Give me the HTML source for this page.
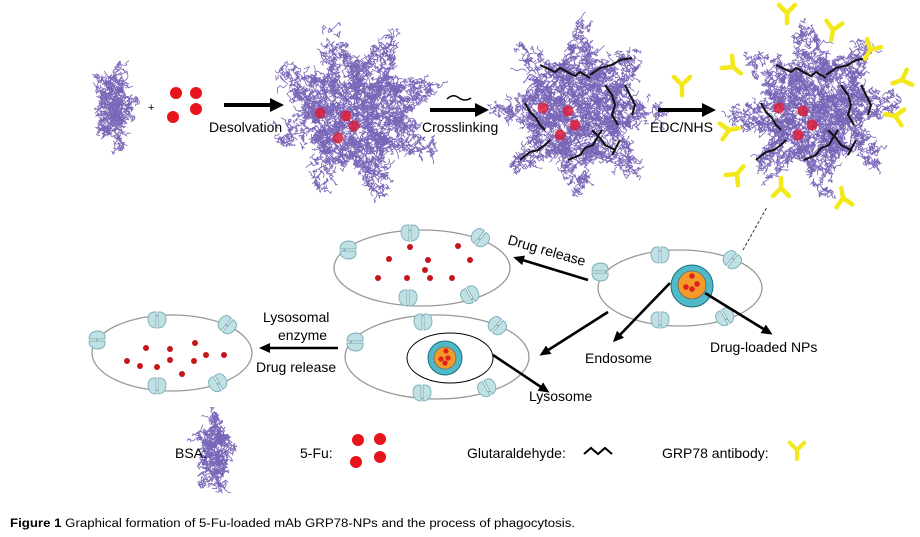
<!DOCTYPE html>
<html><head><meta charset="utf-8"><style>
body{margin:0;background:#fff;}
svg{display:block;font-family:"Liberation Sans",Arial,sans-serif;}
</style></head><body>
<svg id="s" width="920" height="537" viewBox="0 0 920 537" xmlns="http://www.w3.org/2000/svg">
<defs>
<marker id="ah" markerWidth="11" markerHeight="10" refX="8" refY="5" orient="auto" markerUnits="userSpaceOnUse"><path d="M0,0 L11,5 L0,10 z" fill="#000"/></marker>
<marker id="ah2" markerWidth="14" markerHeight="14" refX="10" refY="7" orient="auto" markerUnits="userSpaceOnUse"><path d="M0,0 L14,7 L0,14 z" fill="#000"/></marker>
</defs>
<g id="blobs"></g>
<g id="top">
<text x="148" y="111" font-size="11">+</text>
<circle cx="176" cy="93" r="6" fill="#e8141c"/><circle cx="196" cy="93" r="6" fill="#e8141c"/>
<circle cx="173" cy="117" r="6" fill="#e8141c"/><circle cx="196" cy="109" r="6" fill="#e8141c"/>
<line x1="224" y1="105" x2="280" y2="105" stroke="#000" stroke-width="4" marker-end="url(#ah2)"/>
<text x="209" y="132" font-size="14">Desolvation</text>
<line x1="430" y1="110" x2="485" y2="110" stroke="#000" stroke-width="4" marker-end="url(#ah2)"/>
<path d="M447,99 q6,-6 12,-1 q6,4 12,0" fill="none" stroke="#000" stroke-width="1.5"/>
<text x="422" y="132" font-size="14">Crosslinking</text>
<line x1="658" y1="110" x2="712" y2="110" stroke="#000" stroke-width="4" marker-end="url(#ah2)"/>
<text x="650" y="132" font-size="14">EDC/NHS</text>
</g>
<g id="cells" stroke="#999" fill="none" stroke-width="1.3">
<ellipse cx="422" cy="268" rx="88" ry="38"/>
<ellipse cx="172" cy="353" rx="80" ry="38"/>
<ellipse cx="437" cy="357" rx="92" ry="42"/>
<ellipse cx="680" cy="288" rx="82" ry="38"/>
</g>
<g id="rec"></g>
<g id="drugs" fill="#c4161c"></g>
<ellipse cx="450" cy="358" rx="43" ry="25" fill="#fff" stroke="#000" stroke-width="1"/>
<circle cx="445" cy="358" r="17" fill="#4fb9c8" stroke="#1c6c78"/>
<circle cx="445" cy="358" r="11" fill="#f39a2a" stroke="#555" stroke-width=".6"/>
<circle cx="446" cy="351" r="2.6" fill="#e0201e"/><circle cx="441" cy="359" r="2.6" fill="#e0201e"/><circle cx="448" cy="358" r="2.6" fill="#e0201e"/><circle cx="445" cy="363" r="2.6" fill="#e0201e"/>
<circle cx="692" cy="286" r="21" fill="#4fb9c8" stroke="#1c6c78"/>
<circle cx="692" cy="285" r="14" fill="#f39a2a" stroke="#555" stroke-width=".6"/>
<circle cx="692" cy="276" r="2.8" fill="#e0201e"/><circle cx="686" cy="287" r="2.8" fill="#e0201e"/><circle cx="692" cy="289" r="2.8" fill="#e0201e"/><circle cx="697" cy="284" r="2.8" fill="#e0201e"/>
<g stroke="#000" stroke-width="2.6" fill="none">
<line x1="588" y1="280" x2="516" y2="258" marker-end="url(#ah)"/>
<line x1="670" y1="283" x2="615" y2="340" marker-end="url(#ah)"/>
<line x1="705" y1="293" x2="770" y2="333" marker-end="url(#ah)"/>
<line x1="608" y1="312" x2="542" y2="354" marker-end="url(#ah)"/>
<line x1="493" y1="355" x2="547" y2="391" marker-end="url(#ah)"/>
<line x1="338" y1="348" x2="262" y2="348" marker-end="url(#ah)"/>
</g>
<line x1="743" y1="250" x2="767" y2="207" stroke="#333" stroke-dasharray="3,2" stroke-width="1"/>
<g font-size="14">
<text x="507" y="244" transform="rotate(16 507 244)">Drug release</text>
<text x="585" y="363">Endosome</text>
<text x="710" y="352">Drug-loaded NPs</text>
<text x="529" y="401">Lysosome</text>
<text x="263" y="322">Lysosomal</text>
<text x="278" y="340">enzyme</text>
<text x="256" y="372">Drug release</text>
<text x="175" y="458">BSA:</text>
<text x="300" y="458">5-Fu:</text>
<text x="467" y="458">Glutaraldehyde:</text>
<text x="662" y="458">GRP78 antibody:</text>
</g>
<circle cx="358" cy="440" r="6" fill="#e8141c"/><circle cx="380" cy="439" r="6" fill="#e8141c"/>
<circle cx="356" cy="462" r="6" fill="#e8141c"/><circle cx="380" cy="457" r="6" fill="#e8141c"/>
<path d="M584,454 l7,-6 l7,6 l7,-6 l7,6" fill="none" stroke="#000" stroke-width="2"/>
<text x="10" y="527" font-size="11.5" textLength="565" lengthAdjust="spacingAndGlyphs"><tspan font-weight="bold">Figure 1</tspan> Graphical formation of 5-Fu-loaded mAb GRP78-NPs and the process of phagocytosis.</text>
<g id="ys"></g>
</svg>
<script>
var NS="http://www.w3.org/2000/svg",S=document.getElementById('s');
var seed=7;function r(){seed=(seed*16807)%2147483647;return seed/2147483647;}
function el(p,t,a){var e=document.createElementNS(NS,t);for(var k in a)e.setAttribute(k,a[k]);p.appendChild(e);return e;}
var B=document.getElementById('blobs');
function blob(cx,cy,R,n,spikes,sx,sy,dens){
 var g=el(B,'g',{fill:'none',stroke:'#7a66b8','stroke-width':'0.8'});
 var ph=r()*6;
 for(var i=0;i<dens;i++){
  var a=r()*6.283,f=0.55+0.45*Math.pow(Math.abs(Math.cos((a+ph)*spikes/2)),3);
  var d=Math.sqrt(r())*R*f;var x=cx+Math.cos(a)*d*sx,y=cy+Math.sin(a)*d*sy;
  var p='M'+x.toFixed(1)+','+y.toFixed(1);
  for(var j=0;j<6;j++){x+=(r()-.5)*7;y+=(r()-.5)*7;p+=' L'+x.toFixed(1)+','+y.toFixed(1);}
  el(g,'path',{d:p});
 }
}
blob(114,106,48,0,5,0.42,1,260);
blob(355,112,88,0,8,1,1,1500);
blob(578,110,88,0,8,1,1,1500);
blob(815,110,88,0,8,1,1,1500);
blob(215,452,46,0,5,0.4,1,240);
[[320,113],[346,116],[338,138],[354,126],[543,108],[568,111],[560,135],[575,125],[779,108],[803,111],[798,135],[812,125]].forEach(function(c){el(S,'circle',{cx:c[0],cy:c[1],r:5.5,fill:'#d8203c',opacity:.85});});
var lines=[[[540,65],[555,72],[560,68],[575,76],[580,72],[590,78]],[[590,75],[600,68],[612,65],[620,60],[632,58]],[[525,103],[530,112],[536,118],[540,125],[545,130]],[[520,160],[530,152],[538,150],[545,145],[550,140]],[[568,160],[580,155],[585,148],[593,145],[598,136],[602,130]],[[605,85],[612,95],[615,105],[612,115],[618,125]],[[625,85],[630,95],[635,105],[632,115]],[[592,130],[600,138],[605,145],[615,150],[612,155],[620,140]]];
lines.forEach(function(l){var d='M'+l.map(function(p){return p.join(',')}).join(' L');el(S,'path',{d:d,fill:'none',stroke:'#111','stroke-width':2});
 var d2='M'+l.map(function(p){return (p[0]+236)+','+p[1]}).join(' L');el(S,'path',{d:d2,fill:'none',stroke:'#111','stroke-width':2});});
function Y(x,y,rot,s){var g=el(S,'g',{transform:'translate('+x+','+y+') rotate('+rot+') scale('+(s||1)+')',stroke:'#f2e81a','stroke-width':4.5,'stroke-linecap':'round',fill:'none'});
 el(g,'path',{d:'M0,0 L0,10 M0,0 L-8,-8 M0,0 L8,-8'});}
[[787,13,0],[833,30,10],[870,50,30],[733,67,-50],[902,80,70],[895,116,100],[729,130,-100],[737,174,-140],[781,188,180],[843,198,170],[682,85,0],[797,450,0]].forEach(function(p,i){Y(p[0],p[1],p[2],i==11?0.9:1);});
var R=document.getElementById('rec');
function rc(x,y,rot){var g=el(R,'g',{transform:'translate('+x+','+y+') rotate('+rot+')',fill:'#bfe0e4',stroke:'#7aaeb5','stroke-width':0.9});
 el(g,'path',{d:'M-1,-8 Q-9,-9 -9,0 Q-8,8 -1,8 Z'});el(g,'path',{d:'M1,-8 Q9,-9 9,0 Q8,8 1,8 Z'});}
[[348,250,90],[410,233,0],[480,238,40],[470,295,-30],[408,298,0],
 [97,340,90],[157,320,0],[227,325,40],[157,386,0],[218,383,-30],
 [355,342,90],[423,322,0],[497,326,40],[422,393,0],[487,388,-30],
 [600,272,90],[660,255,0],[732,260,40],[660,320,0],[725,317,-30]].forEach(function(p){rc(p[0],p[1],p[2]);});
var D=document.getElementById('drugs');
[[410,247],[458,246],[389,259],[428,260],[470,260],[378,278],[407,278],[425,270],[430,278],[452,278],
 [146,348],[170,349],[195,343],[127,361],[140,366],[157,367],[170,360],[194,361],[206,355],[224,355],[182,374]].forEach(function(p){el(D,'circle',{cx:p[0],cy:p[1],r:3});});
</script>
</body></html>
